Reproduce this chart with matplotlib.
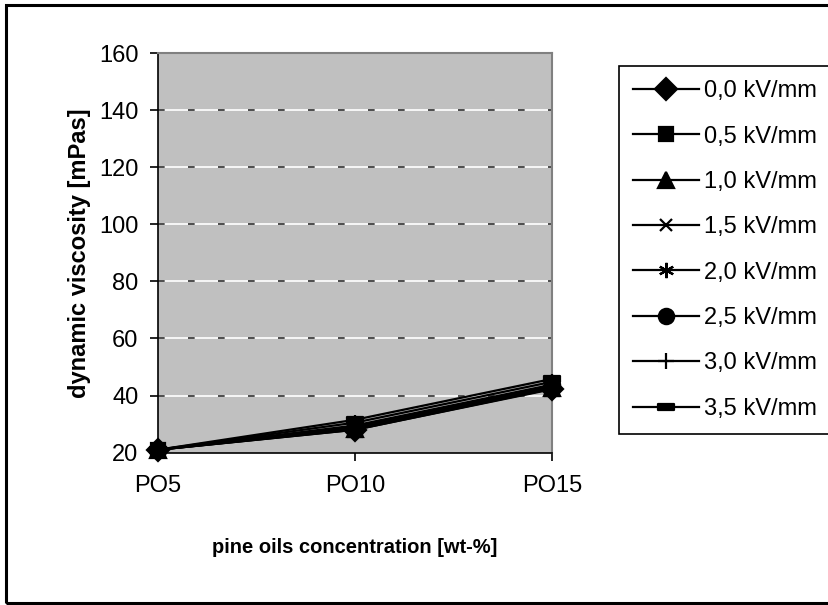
import matplotlib
matplotlib.use("Agg")
import matplotlib.pyplot as plt
from matplotlib.path import Path
from matplotlib.patches import Rectangle

plt.rcParams['font.family'] = ['Liberation Sans', 'DejaVu Sans']

categories = ["PO5", "PO10", "PO15"]
series_labels = ["0,0 kV/mm", "0,5 kV/mm", "1,0 kV/mm", "1,5 kV/mm",
                 "2,0 kV/mm", "2,5 kV/mm", "3,0 kV/mm", "3,5 kV/mm"]
v00 = [21.0, 28.0, 42.2]
v05 = [21.0, 28.0, 42.4]
v10 = [21.0, 28.2, 42.6]
v15 = [21.0, 28.5, 43.0]
v20 = [21.0, 29.0, 43.4]
v25 = [21.0, 29.5, 43.8]
v30 = [21.0, 30.5, 44.8]
v35 = [21.0, 31.5, 45.8]
series_values = [v00, v05, v10, v15, v20, v25, v30, v35]
y_ticks = [20, 40, 60, 80, 100, 120, 140, 160]

dash_marker = Path([(-1, -0.45), (1, -0.45), (1, 0.45), (-1, 0.45), (-1, -0.45)],
                   [Path.MOVETO, Path.LINETO, Path.LINETO, Path.LINETO, Path.CLOSEPOLY])
markers = ['D', 's', '^', 'x', (6, 2, 0), 'o', '+', dash_marker]
msizes = [11, 10, 11, 9, 11, 11, 12, 11]

W, H = 829, 605
fig = plt.figure(figsize=(W / 100, H / 100), dpi=100)

ax = fig.add_axes([158 / W, 1 - 452.6 / H, (552 - 158) / W, (452.6 - 53) / H])
ax.set_facecolor('#c0c0c0')

x = list(range(len(categories)))
handles = []
for vals, lab, mk, ms in zip(series_values, series_labels, markers, msizes):
    h, = ax.plot(x, vals, color='black', lw=1.6, marker=mk, markersize=ms,
                 markerfacecolor='black', markeredgecolor='black',
                 markeredgewidth=1.6, label=lab, clip_on=False, zorder=3)
    handles.append(h)

# gridlines: white with short dark dashes
for yv in y_ticks[1:-1]:
    ax.axhline(yv, color='white', lw=1.2, zorder=1)
    ax.axhline(yv, color='#303030', lw=1.2, dashes=(4, 14), zorder=1.5)

ax.set_xlim(0, len(categories) - 1)
ax.set_ylim(y_ticks[0], y_ticks[-1])
ax.set_yticks(y_ticks)
ax.set_xticks(x)
ax.set_xticklabels(categories)

for side in ['top', 'right']:
    ax.spines[side].set_color('#808080')
    ax.spines[side].set_linewidth(1.5)
for side in ['left', 'bottom']:
    ax.spines[side].set_color('black')
    ax.spines[side].set_linewidth(1.2)

ax.tick_params(axis='y', direction='out', length=6, width=1.2, labelsize=17, pad=8)
ax.tick_params(axis='x', direction='out', length=6, width=1.2, labelsize=17, pad=10)

ax.set_ylabel('dynamic viscosity [mPas]', fontsize=17, fontweight='bold', labelpad=6)
ax.set_xlabel('pine oils concentration [wt-%]', fontsize=14.5, fontweight='bold', labelpad=30)

leg = fig.legend(handles=handles, loc='upper left',
                 bbox_to_anchor=(619 / W, 1 - 66 / H), fontsize=17,
                 frameon=True, fancybox=False, framealpha=1, edgecolor='black',
                 handlelength=2.8, handletextpad=0.2, labelspacing=0.99,
                 borderpad=0.6, borderaxespad=0)
leg.get_frame().set_linewidth(1.2)

# outer chart frame
fig.add_artist(Rectangle((6 / W, 2 / H), 1.05, 1 - 7 / H, transform=fig.transFigure,
                         fill=False, edgecolor='black', lw=2.2, clip_on=False))

fig.savefig('out.png', dpi=100)
